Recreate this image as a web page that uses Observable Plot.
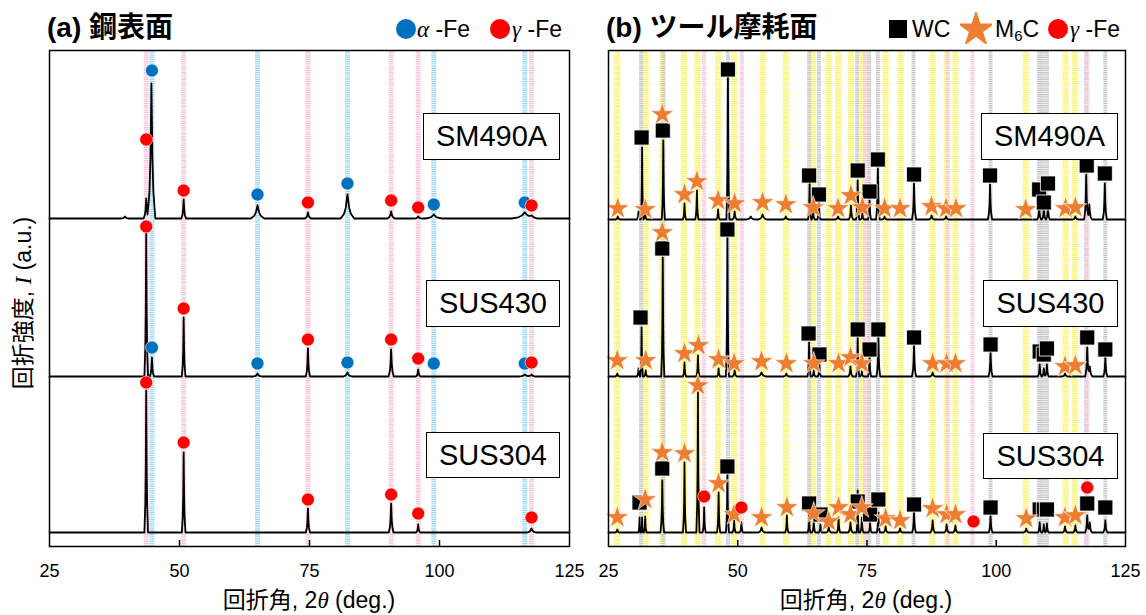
<!DOCTYPE html>
<html><head><meta charset="utf-8">
<script src="https://cdn.jsdelivr.net/npm/d3@7"></script>
<script src="https://cdn.jsdelivr.net/npm/@observablehq/plot@0.6"></script>
<style>
body{margin:0;background:#fff;}
#wrap{position:relative;width:1146px;height:615px;overflow:hidden;background:#fff;font-family:"Liberation Sans","Noto Sans CJK JP",sans-serif;color:#000;}
.abs{position:absolute;white-space:nowrap;}
.title{font-size:28px;font-weight:bold;line-height:32px;top:12px;}
.leg{font-size:23px;line-height:28px;top:15px;}
.it{font-family:"Liberation Serif","DejaVu Serif",serif;font-style:italic;}
.box{position:absolute;border:1.3px solid #000;background:#fff;font-size:29px;display:flex;align-items:center;justify-content:center;box-sizing:border-box;}
.axl{font-size:23px;line-height:28px;}
</style></head>
<body><div id="wrap"></div>
<script>
// ---------- data ----------
const xTicks = [25, 50, 75, 100, 125];
const xInnerTicks = [50, 75, 100];
const samples = ["SM490A", "SUS430", "SUS304"];

// reference peak positions (2θ, deg.)
const alphaFePos = [44.7, 65.0, 82.3, 98.9, 116.4];
const gammaFePosA = [43.6, 50.8, 74.7, 90.7, 95.9, 117.7];
const m6cPos = [26.7, 32.2, 35.4, 39.6, 42.2, 46.2, 49.3, 54.8, 59.3, 64.5, 67.6, 69.4, 71.9, 74.1, 78.6, 81.5, 87.7, 90.4, 92.1, 105.7, 113.4, 115.2];
const wcPos = [31.3, 35.6, 48.1, 63.8, 65.7, 73.1, 75.4, 77.1, 84.0, 98.9, 108.3, 109.0, 109.8, 117.4, 121.1];
const gammaFePosB = [43.5, 50.8, 74.6, 90.6, 95.4, 117.6];

// vertical offsets of the stacked patterns (a.u.)
const offsetsA = [328, 170, 14];
const offsetsB = [327, 170, 14];

// peaks: [2θ, height above baseline (a.u.), half width (deg.)]
const peaksA_SM490A = [[39.5,2,0.8],[43.6,20,0.5],[44.6,135,0.75],[50.8,19,0.45],[65.0,13,1.3],[74.7,6,0.6],[82.3,24,1.3],[90.7,7,0.7],[95.9,2,0.6],[98.9,4,1.6],[116.4,6,2.5],[117.7,2,1.0]];
const peaksA_SUS430 = [[43.6,143,0.35],[44.7,19,0.4],[50.8,59,0.35],[65.0,3,0.8],[74.7,28,0.4],[82.3,4,0.8],[90.7,27,0.5],[95.9,7,0.4],[116.4,2,1.2],[117.7,2,0.8]];
const peaksA_SUS304 = [[43.6,142,0.35],[50.8,80,0.35],[74.7,24,0.4],[90.7,29,0.45],[95.9,8,0.4],[117.7,4,0.8]];

const peaksB_SM490A = [[26.8,3,0.4],[30.8,8,0.3],[31.5,72,0.25],[32.1,6,0.3],[35.6,79,0.3],[39.7,16,0.3],[42.1,29,0.3],[46.2,10,0.3],[48.1,144,0.3],[49.4,8,0.4],[52.5,3,0.8],[54.8,5,0.8],[59.3,3,0.5],[63.9,36,0.3],[64.6,8,0.3],[65.7,16,0.3],[69.4,3,0.5],[71.9,14,0.4],[73.2,39,0.3],[74.1,6,0.3],[75.5,19,0.3],[77.1,51,0.35],[78.4,3,0.4],[84.1,36,0.4],[87.5,4,0.5],[90.3,3,0.5],[98.8,35,0.4],[108.3,14,0.35],[109.2,12,0.35],[110.0,14,0.35],[115.3,3,0.5],[117.4,45,0.4],[118.0,15,0.5],[121.0,36,0.4]];
const peaksB_SUS430 = [[26.7,3,0.4],[30.8,8,0.3],[31.4,49,0.25],[32.2,6,0.3],[35.5,119,0.3],[39.7,14,0.3],[42.3,21,0.3],[46.3,8,0.3],[48.0,141,0.3],[49.4,6,0.4],[54.6,4,0.8],[59.4,3,0.5],[63.8,34,0.3],[64.7,6,0.3],[65.8,12,0.3],[71.8,10,0.4],[73.2,39,0.3],[74.0,5,0.3],[75.5,20,0.3],[77.2,41,0.35],[84.1,31,0.4],[87.7,4,0.5],[98.9,24,0.4],[108.4,12,0.35],[109.2,8,0.35],[109.8,12,0.35],[113.3,3,0.5],[117.6,29,0.4],[118.1,10,0.5],[121.1,19,0.4]];
const peaksB_SUS304 = [[26.7,3,0.4],[31.0,15,0.2],[31.5,15,0.2],[32.1,16,0.25],[35.4,52,0.35],[39.7,70,0.3],[42.3,140,0.3],[43.5,25,0.3],[46.3,40,0.3],[48.0,59,0.3],[49.3,12,0.3],[50.7,10,0.3],[54.6,5,0.6],[59.5,17,0.3],[63.8,18,0.25],[64.7,12,0.3],[66.0,8,0.3],[67.6,6,0.4],[69.5,15,0.3],[71.8,10,0.4],[73.2,42,0.2],[74.0,15,0.3],[75.6,10,0.3],[77.2,20,0.3],[78.6,6,0.4],[81.4,4,0.4],[84.1,22,0.35],[87.7,12,0.4],[90.4,8,0.4],[92.1,7,0.4],[98.9,17,0.35],[105.8,4,0.5],[108.4,10,0.3],[109.2,8,0.3],[109.8,9,0.3],[113.3,6,0.4],[115.3,7,0.4],[117.6,17,0.4],[118.1,10,0.4],[121.1,12,0.4]];

// phase markers: [2θ, intensity (a.u.)]
const alphaMarksA = [[44.7,476],[65.0,352],[82.3,363],[98.9,342],[116.4,344],
                     [44.7,199],[65.0,183],[82.3,184],[98.9,183],[116.4,183]];
const gammaMarksA = [[43.6,407],[50.8,356],[74.7,344],[90.7,346],[95.9,339],[117.7,341],
                     [43.6,320],[50.8,238],[74.7,207],[90.7,207],[95.9,188],[117.7,184],
                     [43.6,164],[50.8,104],[74.7,47],[90.7,52],[95.9,33],[117.7,29]];
const wcMarks = [[31.4,409],[35.5,416],[48.1,477],[63.8,371],[65.7,352],[73.2,376],[75.5,355],[77.1,387],[84.1,372],[98.8,371],[108.3,357],[109.2,344],[110.0,363],[117.5,381],[121.0,373],
                 [31.2,229],[35.4,298],[48.0,317],[63.7,213],[65.8,192],[73.2,217],[75.5,197],[77.2,217],[84.1,209],[98.9,202],[108.4,195],[109.2,192],[109.8,198],[117.6,209],[121.1,197],
                 [31.0,44],[35.4,78],[48.0,80],[63.8,43],[66.0,32],[73.2,45],[75.6,32],[77.2,47],[84.1,42],[98.9,39],[108.4,37],[109.2,37],[109.8,37],[117.6,43],[121.1,39]];
const m6cMarks = [[26.8,338],[32.1,337],[35.4,432],[39.7,352],[42.1,365],[46.2,346],[49.4,343],[54.8,344],[59.3,342],[64.6,339],[69.4,338],[71.9,351],[74.1,339],[78.4,338],[81.4,338],[87.5,340],[90.3,338],[92.2,338],[105.7,337],[113.4,338],[115.3,339],
                  [26.7,186],[32.2,186],[35.4,314],[39.7,193],[42.4,201],[46.3,187],[49.3,183],[54.6,185],[59.4,183],[64.7,183],[69.5,183],[71.8,189],[74.0,183],[87.7,183],[90.4,183],[92.1,183],[113.3,180],[115.3,181],
                  [26.7,29],[32.1,47],[35.4,94],[39.7,93],[42.3,161],[46.3,63],[49.3,32],[54.6,29],[59.5,39],[64.7,33],[67.6,25],[69.5,39],[71.8,32],[74.0,39],[78.6,28],[81.4,26],[87.7,38],[90.4,32],[92.1,32],[105.8,28],[113.3,29],[115.3,31]];
const gammaMarksB = [[43.5,50],[50.7,39],[95.6,25],[117.6,59]];

// ---------- helpers ----------
const rel = [-1, -0.5, -0.25, 0, 0.25, 0.5, 1];
const shape = [0, 0.2, 0.45, 1, 0.45, 0.2, 0];
function contrib(x, c, h, w) {
  const t = (x - c) / w;
  if (t <= -1 || t >= 1) return 0;
  for (let i = 0; i < rel.length - 1; i++) {
    if (t >= rel[i] && t <= rel[i + 1]) {
      const f = (t - rel[i]) / (rel[i + 1] - rel[i]);
      return h * (shape[i] + f * (shape[i + 1] - shape[i]));
    }
  }
  return 0;
}
function pattern(peaks, base, name) {
  const xs = new Set([25, 125]);
  for (const [c, , w] of peaks) rel.forEach(r => xs.add(+(c + r * w).toFixed(4)));
  return [...xs].sort((a, b) => a - b).map(x => ({
    sample: name, x, y: base + d3.sum(peaks, ([c, h, w]) => contrib(x, c, h, w))
  }));
}
const toObj = arr => arr.map(([x, y]) => ({x, y}));

const traceA = [
  ...pattern(peaksA_SM490A, offsetsA[0], samples[0]),
  ...pattern(peaksA_SUS430, offsetsA[1], samples[1]),
  ...pattern(peaksA_SUS304, offsetsA[2], samples[2])];
const traceB = [
  ...pattern(peaksB_SM490A, offsetsB[0], samples[0]),
  ...pattern(peaksB_SUS430, offsetsB[1], samples[1]),
  ...pattern(peaksB_SUS304, offsetsB[2], samples[2])];

const BLUE = "#0070C0", RED = "#FF0000", ORANGE = "#ED7D31";
const band = (pos, color, w) => Plot.ruleX(pos, {stroke: color, strokeWidth: w, strokeDasharray: "1.4,0.8"});

function common(marginLeft, marginRight, width) {
  return {
    width, height: 615, marginLeft, marginRight, marginTop: 50, marginBottom: 69,
    x: {domain: [25, 125], axis: null, label: null},
    y: {domain: [0, 496], axis: null, label: null},
    style: {fontFamily: "Liberation Sans, Arial, sans-serif", background: "transparent"}
  };
}
function axisMarks() {
  return [
    Plot.axisX(xTicks, {anchor: "bottom", tickSize: 0, tickPadding: 18, fontSize: 18, fill: "#000", label: null}),
    Plot.ruleX(xInnerTicks, {y1: 0, y2: 6, stroke: "#000", strokeWidth: 1.5}),
    Plot.frame({stroke: "#000", strokeWidth: 1.5})
  ];
}

const plotA = Plot.plot({
  ...common(49, 16, 585),
  marks: [
    band(alphaFePos, "#9fd9f4", 5),
    band(gammaFePosA, "#f8c3dc", 5),
    Plot.line(traceA, {x: "x", y: "y", z: "sample", stroke: "#000", strokeWidth: 1.8}),
    Plot.dot(toObj(alphaMarksA), {x: "x", y: "y", r: 6.5, fill: BLUE, stroke: "#fff", strokeWidth: 0.6}),
    Plot.dot(toObj(gammaMarksA), {x: "x", y: "y", r: 6.5, fill: RED, stroke: "#fff", strokeWidth: 0.6}),
    ...axisMarks()
  ]
});
const plotB = Plot.plot({
  ...common(23, 21, 561),
  marks: [
    band(m6cPos, "#fbf46a", 6),
    band(wcPos, "#c4c4c4", 4),
    band(gammaFePosB, "#f8c3dc", 4),
    Plot.line(traceB, {x: "x", y: "y", z: "sample", stroke: "#000", strokeWidth: 1.8}),
    Plot.dot(toObj(wcMarks), {x: "x", y: "y", symbol: "square", r: 8.5, fill: "#000", stroke: "#fff", strokeWidth: 0.8}),
    Plot.dot(toObj(m6cMarks), {x: "x", y: "y", symbol: "star", r: 7.2, fill: ORANGE, stroke: "#fff", strokeWidth: 0.6}),
    Plot.dot(toObj(gammaMarksB), {x: "x", y: "y", r: 6.5, fill: RED, stroke: "#fff", strokeWidth: 0.6}),
    ...axisMarks()
  ]
});

const wrap = document.getElementById("wrap");
plotA.style.position = "absolute"; plotA.style.left = "0px"; plotA.style.top = "0px";
plotB.style.position = "absolute"; plotB.style.left = "585px"; plotB.style.top = "0px";
wrap.appendChild(plotA); wrap.appendChild(plotB);

function add(html, css, cls) {
  const d = document.createElement("div");
  d.className = cls || "abs";
  d.innerHTML = html;
  Object.assign(d.style, css);
  wrap.appendChild(d);
  return d;
}
// titles
add("(a) 鋼表面", {left: "47px"}, "abs title");
add("(b) ツール摩耗面", {left: "606px"}, "abs title");
// legend symbols
const sym = (type, color, size) => {
  const s = size, h = s / 2;
  let shp;
  if (type === "circle") shp = `<circle cx="${h}" cy="${h}" r="${h}" fill="${color}"/>`;
  else if (type === "square") shp = `<rect x="0" y="0" width="${s}" height="${s}" fill="${color}"/>`;
  else shp = `<path transform="translate(${h},${h * 1.1})" d="${d3.symbol(d3.symbolStar, s * s * 0.42)()}" fill="${color}"/>`;
  return `<svg width="${s}" height="${s}" style="display:block">${shp}</svg>`;
};
add(sym("circle", BLUE, 20), {left: "396px", top: "19px"});
add('<span class="it">α</span> -Fe', {left: "417px"}, "abs leg");
add(sym("circle", RED, 20), {left: "490px", top: "19px"});
add('<span class="it">γ</span> -Fe', {left: "512px"}, "abs leg");
add(sym("square", "#000", 18), {left: "889px", top: "20px"});
add("WC", {left: "912px"}, "abs leg");
add(sym("star", ORANGE, 32), {left: "960px", top: "12px"});
add('M<sub style="font-size:15px;vertical-align:-4px">6</sub>C', {left: "995px"}, "abs leg");
add(sym("circle", RED, 20), {left: "1048px", top: "19px"});
add('<span class="it">γ</span> -Fe', {left: "1070px"}, "abs leg");
// sample boxes
const boxesA = [[423, 113, 137, 47], [426, 280, 134, 47], [426, 432, 134, 46]];
const boxesB = [[981, 113, 137, 47], [983, 280, 135, 47], [983, 433, 135, 46]];
samples.forEach((s, i) => {
  for (const b of [boxesA[i], boxesB[i]]) {
    add(s, {left: b[0] + "px", top: b[1] + "px", width: b[2] + "px", height: b[3] + "px"}, "box");
  }
});
// axis titles
add('回折角, 2<span class="it">θ</span> (deg.)', {left: "309px", top: "586px", transform: "translateX(-50%)"}, "abs axl");
add('回折角, 2<span class="it">θ</span> (deg.)', {left: "866px", top: "586px", transform: "translateX(-50%)"}, "abs axl");
add('回折強度, <span class="it">I</span> (a.u.)', {left: "23px", top: "303px", transform: "translate(-50%,-50%) rotate(-90deg)"}, "abs axl");
</script>
</body></html>
